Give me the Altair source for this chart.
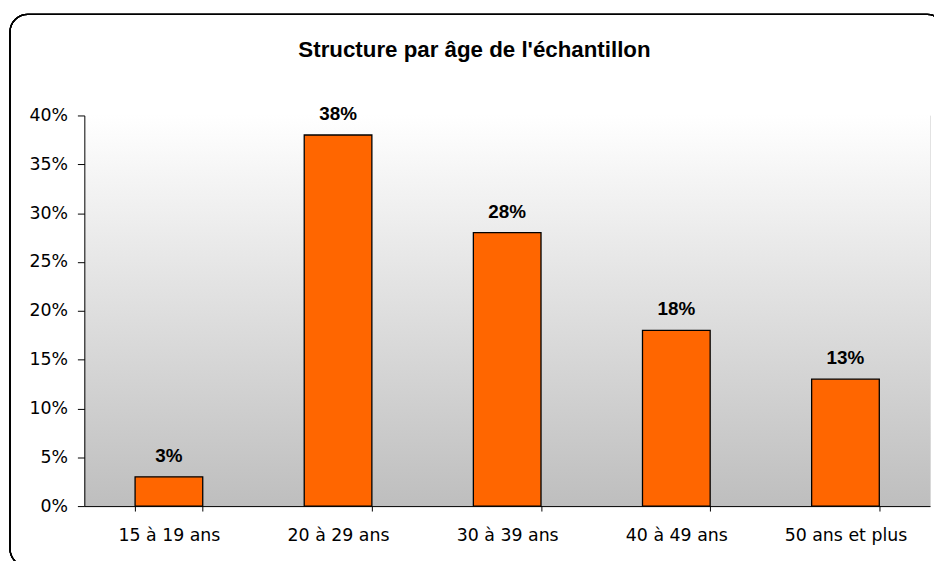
import altair as alt
import pandas as pd

categories = ["15 à 19 ans", "20 à 29 ans", "30 à 39 ans", "40 à 49 ans", "50 ans et plus"]
values = [0.03, 0.38, 0.28, 0.18, 0.13]
y_ticks = [0, 0.05, 0.10, 0.15, 0.20, 0.25, 0.30, 0.35, 0.40]
title_text = "Structure par âge de l'échantillon"

df = pd.DataFrame({"cat": categories, "val": values})

W, H = 853, 394

xenc = alt.X("cat:N", sort=categories, title=None,
             scale=alt.Scale(paddingInner=0.6, paddingOuter=0.3),
             axis=alt.Axis(labelAngle=0, tickBand="extent", tickSize=5,
                           labelPadding=16, labelFont="DejaVu Sans",
                           labelFontSize=17.5, labelColor="black",
                           domainColor="black", tickColor="black",
                           domainWidth=1, tickWidth=1, zindex=2))
yenc = alt.Y("val:Q", title=None,
             scale=alt.Scale(domain=[0, 0.40], nice=False),
             axis=alt.Axis(values=y_ticks, format=".0%", grid=False, tickSize=7,
                           labelPadding=10, labelFont="DejaVu Sans",
                           labelFontSize=17.5, labelColor="black",
                           domainColor="black", tickColor="black",
                           domainWidth=1, tickWidth=1, zindex=2))

bg = alt.Chart(df).mark_rect(
    color=alt.LinearGradient(
        gradient="linear", x1=0, y1=0, x2=0, y2=1,
        stops=[alt.GradientStop(color="#FFFFFF", offset=0),
               alt.GradientStop(color="#BEBEBE", offset=1)])
).encode(x=alt.value(0), x2=alt.value(W), y=alt.value(0), y2=alt.value(H))

frame = alt.Chart(df).mark_rect(
    fillOpacity=0, stroke="black", strokeWidth=1.3, cornerRadius=18
).encode(x=alt.value(-75), x2=alt.value(868), y=alt.value(-102), y2=alt.value(455))

bars = alt.Chart(df).mark_bar(color="#FF6600", stroke="black", strokeWidth=1.3).encode(
    x=xenc, y=yenc)

labels = alt.Chart(df).mark_text(
    font="Liberation Sans", fontWeight="bold", fontSize=19, dy=-15,
    baseline="alphabetic", color="black"
).encode(x=alt.X("cat:N", sort=categories), y="val:Q",
         text=alt.Text("val:Q", format=".0%"))

title = alt.Chart(pd.DataFrame({"t": [title_text]})).mark_text(
    font="Liberation Sans", fontWeight="bold", fontSize=22.5,
    baseline="alphabetic", align="center", color="black"
).encode(x=alt.value(393.5), y=alt.value(-59), text="t:N")

chart = alt.layer(bg, frame, bars, labels, title).properties(
    width=W, height=H,
    padding={"left": 77, "top": 106, "right": 4, "bottom": 53},
    autosize=alt.AutoSizeParams(type="none"),
).configure_view(stroke=None).configure(background="white")

chart.save("out.html", embed_options={"renderer": "svg", "actions": False})
